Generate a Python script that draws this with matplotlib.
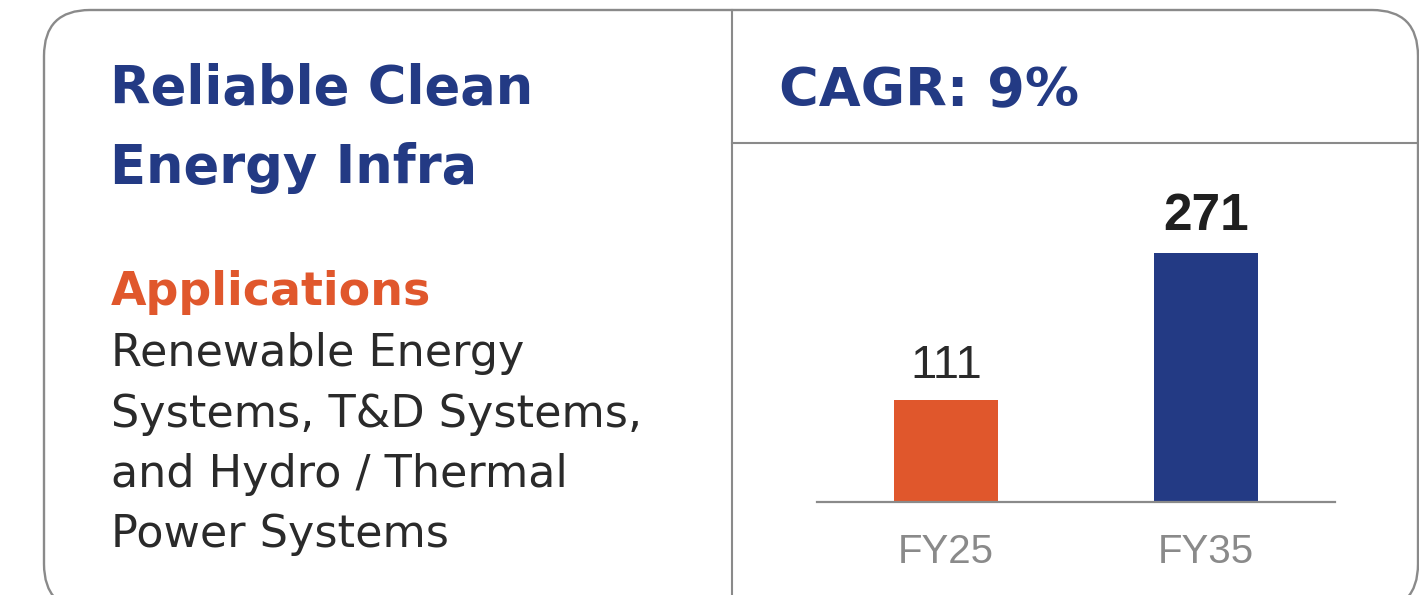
import matplotlib
matplotlib.use('Agg')
import matplotlib.pyplot as plt
from matplotlib.patches import FancyBboxPatch

# Market size values (FY25 vs FY35)
categories = ["FY25", "FY35"]
values = [111, 271]
bar_colors = ["#e0572c", "#233a84"]
value_weights = ["normal", "bold"]

title_lines = ["Reliable Clean", "Energy Infra"]
cagr_label = "CAGR: 9%"
apps_heading = "Applications"
apps_lines = ["Renewable Energy", "Systems, T&D Systems,",
              "and Hydro / Thermal", "Power Systems"]

NAVY = "#233a84"
ORANGE = "#e0572c"
TEXT = "#2a2a2a"
GREY = "#8a8a8a"
HEAD_FONT = "DejaVu Sans"
NUM_FONT = "Liberation Sans"

W, H = 1419, 595
fig = plt.figure(figsize=(W / 100, H / 100), dpi=100)

# background axes in pixel units (y down) for the card frame and text
bg = fig.add_axes([0, 0, 1, 1])
bg.set_xlim(0, W)
bg.set_ylim(H, 0)
bg.axis('off')

card = FancyBboxPatch((44, 10), 1374, 600,
                      boxstyle="round,pad=0,rounding_size=46",
                      fc="white", ec=GREY, lw=1.7)
bg.add_patch(card)
bg.plot([732, 732], [10, 620], color=GREY, lw=1.5)
bg.plot([732, 1418], [143, 143], color=GREY, lw=1.5)

for i, line in enumerate(title_lines):
    bg.text(110, 104 + 79 * i, line, fontsize=38, fontweight='bold',
            color=NAVY, family=HEAD_FONT, va='baseline', ha='left')
bg.text(779, 106, cagr_label, fontsize=39, fontweight='bold',
        color=NAVY, family=HEAD_FONT, va='baseline', ha='left')
bg.text(111, 305, apps_heading, fontsize=33, fontweight='bold',
        color=ORANGE, family=HEAD_FONT, va='baseline', ha='left')
for i, line in enumerate(apps_lines):
    bg.text(111, 366 + 60.5 * i, line, fontsize=32, color=TEXT,
            family=HEAD_FONT, va='baseline', ha='left')

# bar chart
ax = fig.add_axes([817 / W, (H - 502) / H, 518 / W, 322 / H])
x = range(len(categories))
ax.bar(x, values, width=0.4, color=bar_colors)
ax.set_xlim(-129 / 260, 389 / 260)
ax.set_ylim(0, 322 / 0.9205)
ax.patch.set_alpha(0)
for s in ['top', 'right', 'left']:
    ax.spines[s].set_visible(False)
ax.spines['bottom'].set_color(GREY)
ax.spines['bottom'].set_linewidth(1.6)
ax.set_yticks([])
ax.set_xticks(list(x))
ax.set_xticklabels(categories, fontsize=29, color=GREY, family=NUM_FONT)
ax.tick_params(axis='x', length=0, pad=22)

for i, (v, w) in enumerate(zip(values, value_weights)):
    ax.annotate(str(v), (i, v), xytext=(0, 16), textcoords='offset points',
                ha='center', va='baseline', fontsize=34 if w == 'normal' else 37,
                fontweight=w, color=TEXT if w == 'normal' else "#1f1f1f",
                family=NUM_FONT)

fig.savefig("out.png", dpi=100)
